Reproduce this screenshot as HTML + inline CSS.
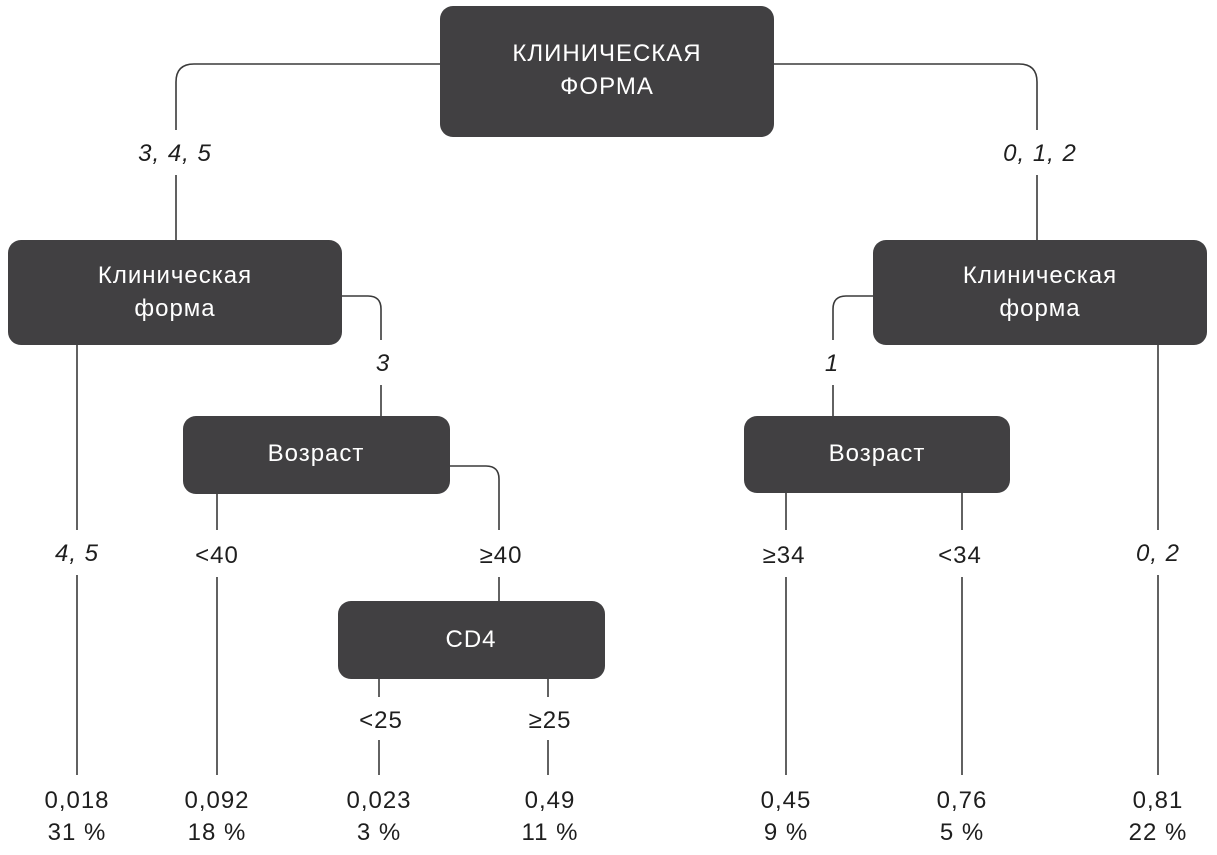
<!DOCTYPE html>
<html><head><meta charset="utf-8"><style>
html,body{margin:0;padding:0;background:#fff;}
svg{display:block;}
text{font-family:"Liberation Sans Narrow","Liberation Sans","DejaVu Sans Condensed",sans-serif;font-size:24px;fill:#1e1e1e;text-anchor:middle;letter-spacing:1px;}
text.w{fill:#fff;}
.i{font-style:italic;}
</style></head><body>
<svg width="1217" height="855" viewBox="0 0 1217 855">
<g fill="none" stroke="#3a3a3a" stroke-width="1.6">
<path d="M440 64 H194 Q176 64 176 82 V130"/><path d="M176 175 V240"/>
<path d="M774 64 H1019 Q1037 64 1037 82 V130"/><path d="M1037 175 V240"/>
<path d="M342 296 H368 Q381 296 381 309 V340"/><path d="M381 385 V416"/>
<path d="M873 296 H846 Q833 296 833 309 V340"/><path d="M833 385 V416"/>
<path d="M77 345 V530"/><path d="M77 575 V775"/>
<path d="M217 494 V530"/><path d="M217 577 V775"/>
<path d="M450 466 H486 Q499 466 499 479 V530"/><path d="M499 577 V601"/>
<path d="M379 679 V697"/><path d="M379 740 V775"/>
<path d="M548 679 V697"/><path d="M548 740 V775"/>
<path d="M786 493 V530"/><path d="M786 577 V775"/>
<path d="M962 493 V530"/><path d="M962 577 V775"/>
<path d="M1158 345 V530"/><path d="M1158 575 V775"/>
</g>
<g fill="#414042">
<rect x="440" y="6" width="334" height="131" rx="13"/>
<rect x="8" y="240" width="334" height="105" rx="13"/>
<rect x="873" y="240" width="334" height="105" rx="13"/>
<rect x="183" y="416" width="267" height="78" rx="13"/>
<rect x="744" y="416" width="266" height="77" rx="13"/>
<rect x="338" y="601" width="267" height="78" rx="13"/>
</g>
<text class="w" x="607" y="61">КЛИНИЧЕСКАЯ</text>
<text class="w" x="607" y="94">ФОРМА</text>
<text class="w" x="175" y="283">Клиническая</text>
<text class="w" x="175" y="316">форма</text>
<text class="w" x="1040" y="283">Клиническая</text>
<text class="w" x="1040" y="316">форма</text>
<text class="w" x="316" y="461">Возраст</text>
<text class="w" x="877" y="461">Возраст</text>
<text class="w" x="471" y="647">CD4</text>
<text class="i" x="175" y="161">3, 4, 5</text>
<text class="i" x="1040" y="161">0, 1, 2</text>
<text class="i" x="383" y="371">3</text>
<text class="i" x="832" y="371">1</text>
<text class="i" x="77" y="561">4, 5</text>
<text class="i" x="1158" y="561">0, 2</text>
<text x="217" y="563">&lt;40</text>
<text x="501" y="563">≥40</text>
<text x="784" y="563">≥34</text>
<text x="960" y="563">&lt;34</text>
<text x="381" y="728">&lt;25</text>
<text x="550" y="728">≥25</text>
<text x="77" y="808">0,018</text><text x="77" y="840">31 %</text>
<text x="217" y="808">0,092</text><text x="217" y="840">18 %</text>
<text x="379" y="808">0,023</text><text x="379" y="840">3 %</text>
<text x="550" y="808">0,49</text><text x="550" y="840">11 %</text>
<text x="786" y="808">0,45</text><text x="786" y="840">9 %</text>
<text x="962" y="808">0,76</text><text x="962" y="840">5 %</text>
<text x="1158" y="808">0,81</text><text x="1158" y="840">22 %</text>
</svg>
</body></html>
